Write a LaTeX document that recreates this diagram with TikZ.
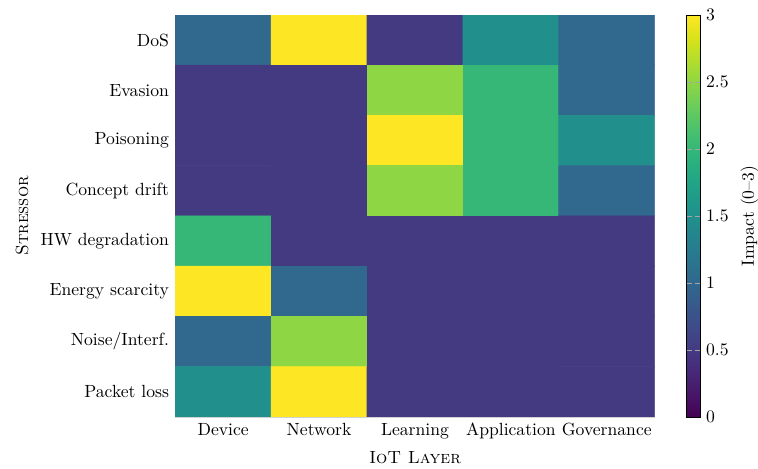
\documentclass[tikz,border=0pt]{standalone}
\usepackage{pgfplots}
\pgfplotsset{compat=1.18}
\begin{document}
\begin{tikzpicture}
\useasboundingbox (-99.4pt,-29.5pt) rectangle (330.6pt,236.5pt);
\begin{axis}[
  at={(0,0)}, anchor=south west,
  width=272pt, height=228pt, scale only axis,
  enlargelimits=false,
  y dir=reverse,
  colormap/viridis,
  point meta min=0, point meta max=3,
  xtick={0,...,4},
  xticklabels={Device,Network,Learning,Application,Governance},
  ytick={0,...,7},
  yticklabels={DoS,Evasion,Poisoning,Concept drift,HW degradation,Energy scarcity,Noise/Interf.,Packet loss},
  major tick length=0pt,
  axis line style={gray!35},
  xlabel={\textsc{IoT Layer}},
  ylabel={\textsc{Stressor}},
  colorbar,
  colorbar style={
    at={(parent axis.north east)}, anchor=north west, xshift=9.7pt,
    width=7.4pt,
    ytick={0,0.5,...,3},
    yticklabels={0,0.5,1,1.5,2,2.5,3},
    major tick length=3pt,
    tick style={gray!70},
    axis line style={black},
    ylabel={Impact (0--3)},
  },
]
\addplot[matrix plot*, mesh/cols=5, point meta=explicit] table[meta=z] {
x y z
0 0 1
1 0 3
2 0 0.5
3 0 1.5
4 0 1
0 1 0.5
1 1 0.5
2 1 2.5
3 1 2
4 1 1
0 2 0.5
1 2 0.5
2 2 3
3 2 2
4 2 1.5
0 3 0.5
1 3 0.5
2 3 2.5
3 3 2
4 3 1
0 4 2
1 4 0.5
2 4 0.5
3 4 0.5
4 4 0.5
0 5 3
1 5 1
2 5 0.5
3 5 0.5
4 5 0.5
0 6 1
1 6 2.5
2 6 0.5
3 6 0.5
4 6 0.5
0 7 1.5
1 7 3
2 7 0.5
3 7 0.5
4 7 0.5
};
\end{axis}
\end{tikzpicture}
\end{document}
